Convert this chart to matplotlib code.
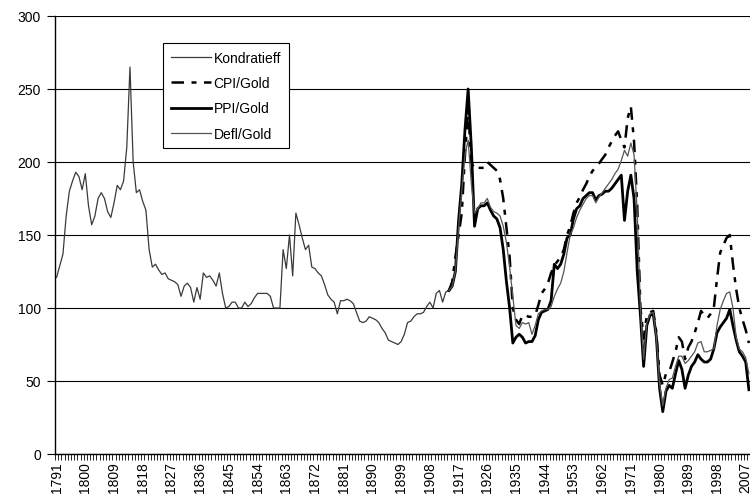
import matplotlib
matplotlib.use("Agg")
import matplotlib.pyplot as plt
import numpy as np

plt.rcParams['font.family'] = ['Liberation Sans', 'DejaVu Sans']

# Kondratieff index, yearly 1791-1914
kondratieff_start = 1791
kondratieff = [
    121, 129, 137, 163, 180, 187, 193, 190, 181,            # 1791-1799
    192, 170, 157, 163, 175, 179, 175, 166, 162, 172,       # 1800s
    184, 181, 187, 210, 265, 200, 179, 181, 173, 167,       # 1810s
    140, 128, 130, 126, 123, 124, 120, 119, 118, 116,       # 1820s
    108, 115, 117, 114, 104, 114, 106, 124, 121, 122,       # 1830s
    119, 115, 124, 110, 100, 101, 104, 104, 100, 100,       # 1840s
    104, 101, 103, 107, 110, 110, 110, 110, 108, 100,       # 1850s
    100, 100, 140, 127, 150, 122, 165, 157, 148, 140,       # 1860s
    143, 128, 127, 124, 122, 116, 109, 106, 104, 96,        # 1870s
    105, 105, 106, 105, 103, 97, 91, 90, 91, 94,            # 1880s
    93, 92, 90, 86, 83, 78, 77, 76, 75, 77,                 # 1890s
    82, 90, 91, 94, 96, 96, 97, 101, 104, 100,              # 1900s
    110, 112, 104, 111, 112,                                # 1910-1914
]

# gold ratios, yearly 1914-2008
ratio_start = 1914
cpi_gold = [
    112, 118, 135, 150, 165, 205,
    236, 200, 195, 196, 196, 196, 200, 198, 196, 194,
    188, 175, 155, 135, 100, 92, 89, 95, 95, 94,
    94, 95, 102, 110, 113, 117, 124, 129, 132, 135,
    140, 150, 156, 165, 172, 176, 181, 185, 190, 194,
    196, 199, 202, 205, 210, 214, 218, 221, 215, 210,
    230, 238, 214, 170, 100, 79, 95, 97, 98, 83,
    54, 47, 55, 56, 63, 70, 80, 77, 65, 73,
    77, 83, 90, 98, 95, 93, 96, 100, 120, 138,
    143, 148, 150, 130, 113, 100, 92, 85, 76,
]
ppi_gold = [
    112, 115, 125, 160, 185, 222,
    250, 210, 156, 168, 170, 170, 172, 167, 163, 161,
    155, 140, 118, 100, 76, 80, 82, 80, 76, 77,
    77, 81, 92, 97, 98, 99, 105, 130, 127, 130,
    137, 148, 150, 161, 168, 170, 175, 177, 179, 179,
    174, 177, 178, 180, 180, 182, 185, 188, 191, 160,
    180, 191, 175, 125, 95, 60, 88, 95, 96, 80,
    45, 29, 43, 47, 45, 55, 64, 58, 45, 54,
    60, 63, 68, 65, 63, 63, 65, 72, 83, 87,
    90, 93, 99, 88, 78, 70, 67, 63, 44,
]
defl_gold = [
    112, 115, 125, 155, 180, 205,
    215, 185, 165, 168, 172, 172, 175, 169, 166, 165,
    163, 156, 145, 128, 108, 88, 86, 90, 89, 90,
    82, 88, 96, 98, 99, 99, 101, 108, 113, 117,
    125, 138, 150, 155, 162, 167, 171, 175, 177, 177,
    172, 176, 179, 182, 185, 188, 192, 195, 201, 208,
    204, 213, 205, 165, 100, 65, 90, 96, 97, 80,
    48, 33, 45, 51, 52, 60, 67, 67, 62, 64,
    67, 70, 76, 77, 70, 70, 71, 72, 88, 99,
    105, 110, 111, 100, 80, 72, 70, 66, 55,
]

first_year, last_year = 1791, 2008
label_years = list(range(1791, 2008, 9))
y_ticks = [0, 50, 100, 150, 200, 250, 300]

k_years = np.arange(kondratieff_start, kondratieff_start + len(kondratieff))
r_years = np.arange(ratio_start, ratio_start + len(ppi_gold))

fig = plt.figure(figsize=(7.5, 5.02), dpi=100)
ax = fig.add_axes([55 / 750, 47 / 502, 695.5 / 750, 438 / 502])

ax.plot(k_years, kondratieff, color='#3a3a3a', lw=0.9, label='Kondratieff')
ax.plot(r_years, cpi_gold, color='black', lw=1.8, dashes=(5, 3, 2, 3),
        label='CPI/Gold')
ax.plot(r_years, ppi_gold, color='black', lw=2.0, label='PPI/Gold')
ax.plot(r_years, defl_gold, color='#555555', lw=0.9, label='Defl/Gold')

ax.set_xlim(first_year - 0.5, last_year + 0.5)
ax.set_ylim(0, 300)
ax.set_yticks(y_ticks)
ax.yaxis.grid(True, color='black', lw=0.8)
ax.set_axisbelow(True)

ax.set_xticks(label_years)
ax.set_xticklabels([str(y) for y in label_years], rotation=90)
ax.set_xticks(np.arange(first_year - 0.5, last_year + 1.0, 1.0), minor=True)
ax.tick_params(axis='x', which='major', length=0, pad=5, labelsize=10)
ax.tick_params(axis='x', which='minor', length=4, width=0.6, direction='out')
ax.tick_params(axis='y', which='major', length=6, width=0.8, labelsize=10, pad=4)

for side in ('top', 'right'):
    ax.spines[side].set_visible(False)
for side in ('left', 'bottom'):
    ax.spines[side].set_color('black')
    ax.spines[side].set_linewidth(1.0)

leg = ax.legend(loc='upper left', bbox_to_anchor=(163 / 750, 1 - 44 / 502),
                bbox_transform=fig.transFigure, borderaxespad=0,
                fancybox=False, framealpha=1, edgecolor='black',
                fontsize=10, handlelength=2.9, labelspacing=0.82,
                handletextpad=0.2, borderpad=0.55)
leg.get_frame().set_linewidth(0.8)

fig.savefig('out.png', dpi=100, facecolor='white')
